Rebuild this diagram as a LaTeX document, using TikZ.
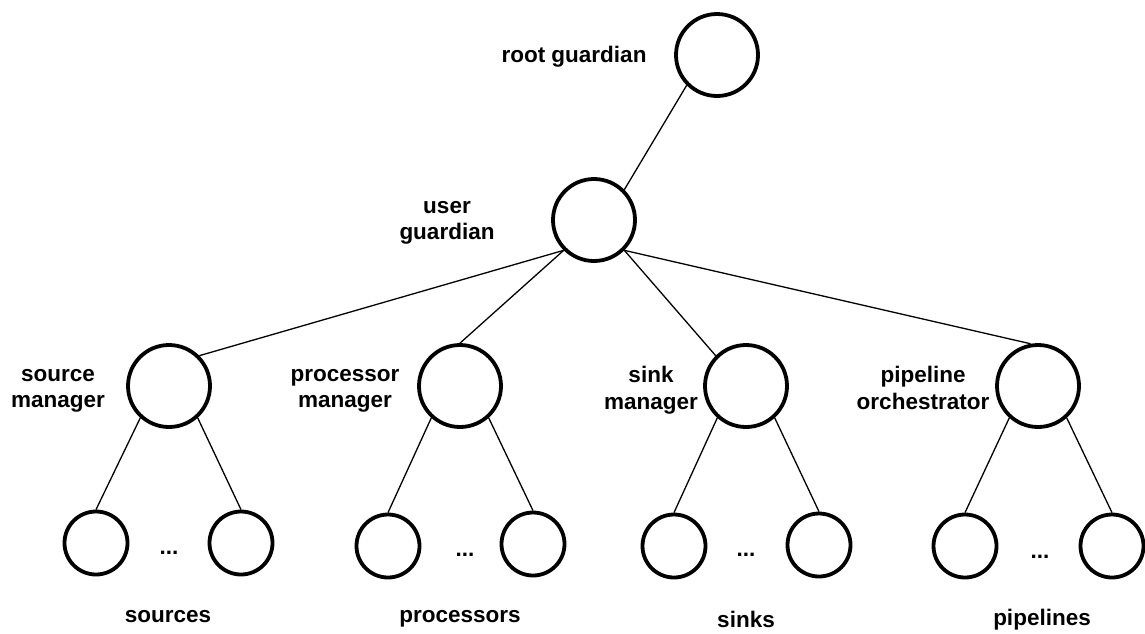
\documentclass[tikz,border=0pt]{standalone}
\usepackage{fontspec}
\setmainfont{Liberation Sans}
\begin{document}
\begin{tikzpicture}[x=1pt,y=-1pt,
  actor/.style={circle,draw,line width=3.8pt,minimum size=82pt,inner sep=0pt},
  worker/.style={circle,draw,line width=3.8pt,minimum size=63pt,inner sep=0pt},
  link/.style={line width=1.3pt},
  lbl/.style={font=\bfseries\fontsize{22.5}{26.5}\selectfont,align=center,inner sep=0pt},
]
\useasboundingbox (0,0) rectangle (1145,633);

% supervision hierarchy
\node[actor] (root) at (717,55) {};
\node[actor] (user) at (594,220) {};
\node[actor] (srcm) at (169,386) {};
\node[actor] (prcm) at (460,386) {};
\node[actor] (snkm) at (746,386) {};
\node[actor] (pipo) at (1038,386) {};

% children of each manager
\node[worker] (src1) at (96,543) {};
\node[worker] (src2) at (241,543) {};
\node[worker] (prc1) at (388,546) {};
\node[worker] (prc2) at (533,544) {};
\node[worker] (snk1) at (674,546) {};
\node[worker] (snk2) at (819,545) {};
\node[worker] (pip1) at (965,546) {};
\node[worker] (pip2) at (1112,546) {};

% labels
\node[lbl] (lroot) at (574,57) {root guardian};
\node[lbl] (luser) at (447,223) {user\\guardian};
\node[lbl] (lsrcm) at (58,391) {source\\manager};
\node[lbl] (lprcm) at (345,391) {processor\\manager};
\node[lbl] (lsnkm) at (651,390) {sink\\manager};
\node[lbl] (lpipo) at (923,388) {pipeline\\orchestrator};

\node[lbl] (dsrc) at (169,553) {...};
\node[lbl] (dprc) at (465,555) {...};
\node[lbl] (dsnk) at (746,555) {...};
\node[lbl] (dpip) at (1040,557) {...};

\node[lbl] (tsrc) at (168,617) {sources};
\node[lbl] (tprc) at (460,619) {processors};
\node[lbl] (tsnk) at (746,619) {sinks};
\node[lbl] (tpip) at (1042,620) {pipelines};

% connectors
\draw[link] (root.225) -- (user.45);
\draw[link] (user.225) -- (srcm.45);
\draw[link] (user.225) -- (prcm.north);
\draw[link] (user.315) -- (snkm.135);
\draw[link] (user.315) -- (pipo.100);

\draw[link] (srcm.228) -- (src1.north);
\draw[link] (srcm.312) -- (src2.north);
\draw[link] (prcm.228) -- (prc1.north);
\draw[link] (prcm.312) -- (prc2.north);
\draw[link] (snkm.228) -- (snk1.north);
\draw[link] (snkm.312) -- (snk2.north);
\draw[link] (pipo.228) -- (pip1.north);
\draw[link] (pipo.312) -- (pip2.north);
\end{tikzpicture}
\end{document}
